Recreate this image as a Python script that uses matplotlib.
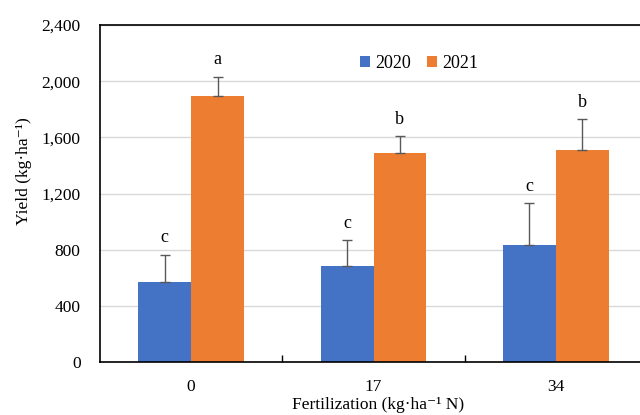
import matplotlib

matplotlib.use("Agg")

import matplotlib.pyplot as plt
import numpy as np
from matplotlib.ticker import FuncFormatter, FixedLocator

plt.rcParams["font.family"] = ["Liberation Serif", "DejaVu Serif"]

categories = ["0", "17", "34"]
years = ["2020", "2021"]
yield_2020 = [572, 681, 836]
yield_2021 = [1893, 1489, 1507]
err_2020 = [193, 187, 294]
err_2021 = [140, 120, 225]
letters_2020 = ["c", "c", "c"]
letters_2021 = ["a", "b", "b"]

colors = ["#4472C4", "#ED7D31"]

fig = plt.figure(figsize=(6.4, 4.15), dpi=100)
ax = fig.add_axes([100 / 640, 53 / 415, 547 / 640, 337 / 415])

x = np.arange(len(categories))
w = 0.29
series = [(yield_2020, err_2020, letters_2020), (yield_2021, err_2021, letters_2021)]
for i, (vals, errs, lets) in enumerate(series):
    pos = x + (i - 0.5) * w
    ax.bar(pos, vals, width=w, color=colors[i], label=years[i], zorder=2)
    ax.errorbar(pos, vals, yerr=[np.zeros(len(vals)), errs], fmt="none",
                ecolor="#595959", elinewidth=1, capsize=3.5, capthick=1, zorder=3)
    for p, v, e, l in zip(pos, vals, errs, lets):
        ax.annotate(l, (p, v + e), xytext=(0, 12), textcoords="offset points",
                    ha="center", va="center", fontsize=13)

ax.set_xlim(-0.5, 2.5)
ax.set_ylim(0, 2400)
ax.set_yticks(range(0, 2401, 400))
ax.yaxis.set_major_formatter(FuncFormatter(lambda v, _: f"{int(v):,}"))
ax.set_xticks(x)
ax.set_xticklabels(categories)
ax.xaxis.set_minor_locator(FixedLocator([0.5, 1.5]))
ax.tick_params(axis="x", which="major", length=0, pad=12, labelsize=12.5)
ax.tick_params(axis="x", which="minor", direction="in", length=5, width=1)
ax.tick_params(axis="y", length=0, pad=14, labelsize=12.5)

ax.grid(axis="y", color="#D9D9D9", linewidth=1, zorder=0)
ax.set_axisbelow(True)
for s in ["left", "bottom", "top", "right"]:
    ax.spines[s].set_linewidth(1.2)
    ax.spines[s].set_color("black")

fig.text(24 / 640, 1 - 171 / 415, "Yield (kg·ha⁻¹)", rotation=90,
         ha="center", va="center", fontsize=12.5)
fig.text(378 / 640, 1 - 405 / 415, "Fertilization (kg·ha⁻¹ N)",
         ha="center", va="center", fontsize=12.5)

ax.legend(loc="upper center", bbox_to_anchor=(419 / 640, 1 - 39 / 415),
          bbox_transform=fig.transFigure, ncol=2, frameon=False, fontsize=13,
          handlelength=0.55, handleheight=0.55, handletextpad=0.3, columnspacing=0.9)

fig.savefig("out.png", dpi=100)
